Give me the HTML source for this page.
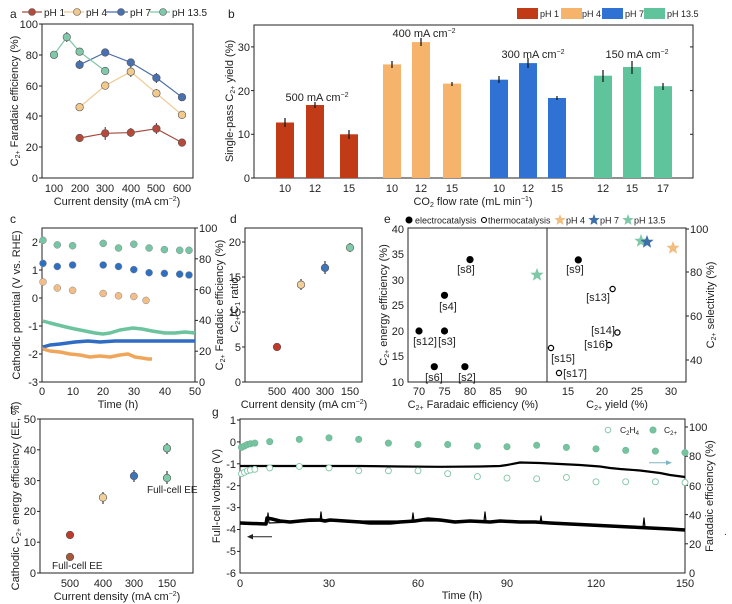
<!DOCTYPE html>
<html><head><meta charset="utf-8"><style>
body{margin:0;background:#fff}
svg{display:block;font-family:"Liberation Sans",Arial,sans-serif}
text{fill:#222}
.t{font-size:11px}
.l{font-size:11px}
.s{font-size:9px}
.p{font-size:12px}
</style></head><body>
<svg width="732" height="604" viewBox="0 0 732 604" xmlns="http://www.w3.org/2000/svg">
<g stroke="#222" fill="none" stroke-width="1">
<rect x="42" y="24" width="151" height="154"/>
<rect x="254" y="25" width="439" height="153"/>
<rect x="42" y="228" width="153" height="154"/>
<rect x="245" y="228" width="117" height="154"/>
<rect x="408" y="228" width="278" height="154"/>
<line x1="547" y1="228" x2="547" y2="382"/>
<rect x="40" y="419" width="153" height="154"/>
<rect x="240" y="419" width="445" height="154"/>
</g>
<text x="10" y="18" class="p">a</text><text x="228" y="18" class="p">b</text>
<text x="10" y="223" class="p">c</text><text x="230" y="223" class="p">d</text>
<text x="384" y="223" class="p">e</text><text x="10" y="414" class="p">f</text>
<text x="212" y="416" class="p">g</text>

<!-- ===== Panel a ===== -->
<g class="t" text-anchor="end">
<text x="38" y="182">0</text><text x="38" y="151">20</text><text x="38" y="120">40</text><text x="38" y="90">60</text><text x="38" y="59">80</text><text x="38" y="28">100</text>
</g>
<g stroke="#222"><line x1="42" y1="178" x2="39" y2="178"/><line x1="42" y1="147" x2="39" y2="147"/><line x1="42" y1="116" x2="39" y2="116"/><line x1="42" y1="86" x2="39" y2="86"/><line x1="42" y1="55" x2="39" y2="55"/><line x1="42" y1="24" x2="39" y2="24"/></g>
<g class="t" text-anchor="middle">
<text x="54" y="192">100</text><text x="80" y="192">200</text><text x="105" y="192">300</text><text x="131" y="192">400</text><text x="156" y="192">500</text><text x="182" y="192">600</text>
</g>
<text x="117" y="205" class="l" text-anchor="middle">Current density (mA cm<tspan dy="-4" font-size="7">−2</tspan><tspan dy="4">)</tspan></text>
<text transform="translate(18,101) rotate(-90)" class="l" text-anchor="middle">C<tspan font-size="7" dy="2">2+</tspan><tspan dy="-2"> Faradaic efficiency (%)</tspan></text>
<g stroke-width="1.2" fill="none">
<polyline stroke="#a84a3c" points="79.6,138 105.2,133.3 130.8,132.6 156.4,128.7 182,142.6"/>
<polyline stroke="#f0c88f" points="79.6,107.2 105.2,85.6 130.8,71.7 156.4,93.3 182,114.9"/>
<polyline stroke="#4b6ea6" points="79.6,64.8 105.2,52.5 130.8,62.5 156.4,77.9 182,97.2"/>
<polyline stroke="#7fc6a8" points="54,54.8 66.8,37.1 79.6,51.7 105.2,71"/>
</g>
<g stroke="#333" stroke-width="1">
<line x1="79.6" y1="134" x2="79.6" y2="142"/><line x1="105.2" y1="127" x2="105.2" y2="140"/><line x1="130.8" y1="128" x2="130.8" y2="137"/><line x1="156.4" y1="123" x2="156.4" y2="134"/><line x1="182" y1="139" x2="182" y2="146"/>
<line x1="79.6" y1="104" x2="79.6" y2="110"/><line x1="105.2" y1="82" x2="105.2" y2="89"/><line x1="130.8" y1="66" x2="130.8" y2="77"/><line x1="156.4" y1="89" x2="156.4" y2="97"/><line x1="182" y1="112" x2="182" y2="118"/>
<line x1="79.6" y1="60" x2="79.6" y2="69"/><line x1="105.2" y1="49" x2="105.2" y2="56"/><line x1="130.8" y1="59" x2="130.8" y2="66"/><line x1="156.4" y1="73" x2="156.4" y2="83"/><line x1="182" y1="94" x2="182" y2="100"/>
<line x1="54" y1="51" x2="54" y2="58"/><line x1="66.8" y1="32" x2="66.8" y2="42"/><line x1="79.6" y1="48" x2="79.6" y2="55"/><line x1="105.2" y1="67" x2="105.2" y2="75"/>
</g>
<g stroke="#555" stroke-width="0.6">
<g fill="#b54a3a"><circle cx="79.6" cy="138" r="3.8"/><circle cx="105.2" cy="133.3" r="3.8"/><circle cx="130.8" cy="132.6" r="3.8"/><circle cx="156.4" cy="128.7" r="3.8"/><circle cx="182" cy="142.6" r="3.8"/></g>
<g fill="#f2c98c"><circle cx="79.6" cy="107.2" r="3.8"/><circle cx="105.2" cy="85.6" r="3.8"/><circle cx="130.8" cy="71.7" r="3.8"/><circle cx="156.4" cy="93.3" r="3.8"/><circle cx="182" cy="114.9" r="3.8"/></g>
<g fill="#4a70b0"><circle cx="79.6" cy="64.8" r="3.8"/><circle cx="105.2" cy="52.5" r="3.8"/><circle cx="130.8" cy="62.5" r="3.8"/><circle cx="156.4" cy="77.9" r="3.8"/><circle cx="182" cy="97.2" r="3.8"/></g>
<g fill="#80c8aa"><circle cx="54" cy="54.8" r="3.8"/><circle cx="66.8" cy="37.1" r="3.8"/><circle cx="79.6" cy="51.7" r="3.8"/><circle cx="105.2" cy="71" r="3.8"/></g>
</g>
<g stroke-width="1.2">
<line x1="22" y1="12" x2="42" y2="12" stroke="#a84a3c"/><circle cx="32" cy="12" r="3.5" fill="#b54a3a" stroke="#555" stroke-width="0.6"/>
<line x1="64" y1="12" x2="84" y2="12" stroke="#f0c88f"/><circle cx="77" cy="12" r="3.5" fill="#f2c98c" stroke="#555" stroke-width="0.6"/>
<line x1="106" y1="12" x2="128" y2="12" stroke="#4b6ea6"/><circle cx="121" cy="12" r="3.5" fill="#4a70b0" stroke="#555" stroke-width="0.6"/>
<line x1="150" y1="12" x2="170" y2="12" stroke="#7fc6a8"/><circle cx="163" cy="12" r="3.5" fill="#80c8aa" stroke="#555" stroke-width="0.6"/>
</g>
<g font-size="10"><text x="44" y="16">pH 1</text><text x="86" y="16">pH 4</text><text x="130" y="16">pH 7</text><text x="172" y="16">pH 13.5</text></g>

<!-- ===== Panel b ===== -->
<g class="t" text-anchor="end"><text x="250" y="182">0</text><text x="250" y="138">10</text><text x="250" y="95">20</text><text x="250" y="51">30</text></g>
<g stroke="#222"><line x1="254" y1="178" x2="251" y2="178"/><line x1="254" y1="134.3" x2="251" y2="134.3"/><line x1="254" y1="90.6" x2="251" y2="90.6"/><line x1="254" y1="46.9" x2="251" y2="46.9"/>
<line x1="693" y1="134.3" x2="690" y2="134.3"/><line x1="693" y1="90.6" x2="690" y2="90.6"/><line x1="693" y1="46.9" x2="690" y2="46.9"/></g>
<g fill="#c23b17">
<rect x="276" y="122.5" width="18" height="55.5"/><rect x="306" y="105" width="18" height="73"/><rect x="340" y="134.3" width="18" height="43.7"/></g>
<g fill="#f5b36c">
<rect x="383" y="64.4" width="18" height="113.6"/><rect x="412" y="42.1" width="18" height="135.9"/><rect x="443" y="83.6" width="18" height="94.4"/></g>
<g fill="#2f72d4">
<rect x="490" y="79.7" width="18" height="98.3"/><rect x="519" y="63.1" width="18" height="114.9"/><rect x="548" y="98" width="18" height="80"/></g>
<g fill="#5fc39c">
<rect x="594" y="75.7" width="18" height="102.3"/><rect x="623" y="67" width="18" height="111"/><rect x="654" y="86.2" width="18" height="91.8"/></g>
<g stroke="#111" stroke-width="1.2">
<line x1="285" y1="118" x2="285" y2="127"/><line x1="315" y1="102" x2="315" y2="108"/><line x1="349" y1="130" x2="349" y2="139"/>
<line x1="392" y1="61" x2="392" y2="68"/><line x1="421" y1="38" x2="421" y2="46"/><line x1="452" y1="82" x2="452" y2="86"/>
<line x1="499" y1="76" x2="499" y2="83"/><line x1="528" y1="58" x2="528" y2="68"/><line x1="557" y1="96" x2="557" y2="100"/>
<line x1="603" y1="70" x2="603" y2="82"/><line x1="632" y1="61" x2="632" y2="74"/><line x1="663" y1="83" x2="663" y2="90"/>
</g>
<g class="l" text-anchor="middle">
<text x="317" y="101">500 mA cm<tspan dy="-4" font-size="7">−2</tspan></text>
<text x="424" y="37">400 mA cm<tspan dy="-4" font-size="7">−2</tspan></text>
<text x="533" y="58">300 mA cm<tspan dy="-4" font-size="7">−2</tspan></text>
<text x="637" y="58">150 mA cm<tspan dy="-4" font-size="7">−2</tspan></text>
</g>
<g class="t" text-anchor="middle">
<text x="285" y="192">10</text><text x="315" y="192">12</text><text x="349" y="192">15</text>
<text x="392" y="192">10</text><text x="421" y="192">12</text><text x="452" y="192">15</text>
<text x="499" y="192">10</text><text x="528" y="192">12</text><text x="557" y="192">15</text>
<text x="603" y="192">12</text><text x="632" y="192">15</text><text x="663" y="192">17</text>
</g>
<text x="473" y="205" class="l" text-anchor="middle">CO<tspan font-size="7" dy="2">2</tspan><tspan dy="-2"> flow rate (mL min</tspan><tspan dy="-4" font-size="7">−1</tspan><tspan dy="4">)</tspan></text>
<text transform="translate(233,101) rotate(-90)" class="l" text-anchor="middle">Single-pass C<tspan font-size="7" dy="2">2+</tspan><tspan dy="-2"> yield (%)</tspan></text>
<rect x="517" y="8" width="21" height="11" fill="#c23b17"/><text x="540" y="17" class="s">pH 1</text>
<rect x="561" y="8" width="21" height="11" fill="#f5b36c"/><text x="582" y="17" class="s">pH 4</text>
<rect x="602" y="8" width="21" height="11" fill="#2f72d4"/><text x="625" y="17" class="s">pH 7</text>
<rect x="644" y="8" width="21" height="11" fill="#5fc39c"/><text x="667" y="17" class="s">pH 13.5</text>

<!-- ===== Panel c ===== -->
<g class="t" text-anchor="end">
<text x="38" y="246">2</text><text x="38" y="274">1</text><text x="38" y="302">0</text><text x="38" y="330">-1</text><text x="38" y="358">-2</text><text x="38" y="386">-3</text></g>
<g stroke="#222"><line x1="42" y1="242" x2="39" y2="242"/><line x1="42" y1="270" x2="39" y2="270"/><line x1="42" y1="298" x2="39" y2="298"/><line x1="42" y1="326" x2="39" y2="326"/><line x1="42" y1="354" x2="39" y2="354"/><line x1="42" y1="382" x2="39" y2="382"/>
<line x1="195" y1="228" x2="198" y2="228"/><line x1="195" y1="258.8" x2="198" y2="258.8"/><line x1="195" y1="289.6" x2="198" y2="289.6"/><line x1="195" y1="320.4" x2="198" y2="320.4"/><line x1="195" y1="351.2" x2="198" y2="351.2"/><line x1="195" y1="382" x2="198" y2="382"/></g>
<g class="t">
<text x="199" y="232">100</text><text x="199" y="263">80</text><text x="199" y="294">60</text><text x="199" y="324">40</text><text x="199" y="355">20</text><text x="199" y="386">0</text></g>
<g class="t" text-anchor="middle">
<text x="42" y="395">0</text><text x="73" y="395">10</text><text x="103" y="395">20</text><text x="134" y="395">30</text><text x="165" y="395">40</text><text x="195" y="395">50</text></g>
<text x="118" y="408" class="l" text-anchor="middle">Time (h)</text>
<text transform="translate(20,305) rotate(-90)" class="l" text-anchor="middle">Cathodic potential (V vs. RHE)</text>
<text transform="translate(223,305) rotate(-90)" class="l" text-anchor="middle">C<tspan font-size="7" dy="2">2+</tspan><tspan dy="-2"> Faradaic efficiency (%)</tspan></text>
<g fill="none" stroke-width="3.5" stroke-linejoin="round">
<polyline stroke="#6cc49e" points="43,321 50,323 58,325 66,327 75,329 85,331 95,333 103,334 110,333 120,330 133,328 142,329 152,331 165,333 175,333 185,332 195,333"/>
<polyline stroke="#2f6cc4" points="43,347 50,345 60,344 75,342 88,341 100,342 115,341 135,341 155,341 175,341 195,341"/>
<polyline stroke="#f0a65a" points="43,349 50,351 60,352 70,354 80,355 90,357 100,356 110,357 120,355 128,354 135,357 142,358 148,359 152,359"/>
</g>
<g stroke="#888" stroke-width="0.5">
<g fill="#76c6a6"><circle cx="43" cy="240.3" r="3.5"/><circle cx="57.3" cy="244.9" r="3.5"/><circle cx="72.6" cy="245.7" r="3.5"/><circle cx="103.2" cy="243.4" r="3.5"/><circle cx="118.5" cy="248" r="3.5"/><circle cx="133.8" cy="244.2" r="3.5"/><circle cx="149.1" cy="248" r="3.5"/><circle cx="164.4" cy="249.6" r="3.5"/><circle cx="179.7" cy="250.3" r="3.5"/><circle cx="189" cy="250.3" r="3.5"/></g>
<g fill="#2e6fc0"><circle cx="43" cy="263.4" r="3.5"/><circle cx="57.3" cy="266.5" r="3.5"/><circle cx="72.6" cy="265" r="3.5"/><circle cx="103.2" cy="265" r="3.5"/><circle cx="118.5" cy="266.5" r="3.5"/><circle cx="133.8" cy="269.6" r="3.5"/><circle cx="149.1" cy="272.7" r="3.5"/><circle cx="164.4" cy="273.4" r="3.5"/><circle cx="179.7" cy="274.2" r="3.5"/><circle cx="189" cy="275" r="3.5"/></g>
<g fill="#f2bd86"><circle cx="43" cy="281.9" r="3.5"/><circle cx="57.3" cy="288" r="3.5"/><circle cx="72.6" cy="290.4" r="3.5"/><circle cx="103.2" cy="293.5" r="3.5"/><circle cx="118.5" cy="295.8" r="3.5"/><circle cx="133.8" cy="296.5" r="3.5"/><circle cx="146" cy="300.4" r="3.5"/></g>
</g>

<!-- ===== Panel d ===== -->
<g class="t" text-anchor="end"><text x="241" y="386">0</text><text x="241" y="351">5</text><text x="241" y="316">10</text><text x="241" y="281">15</text><text x="241" y="246">20</text></g>
<g stroke="#222"><line x1="245" y1="382" x2="242" y2="382"/><line x1="245" y1="347" x2="242" y2="347"/><line x1="245" y1="312" x2="242" y2="312"/><line x1="245" y1="277" x2="242" y2="277"/><line x1="245" y1="242" x2="242" y2="242"/></g>
<g class="t" text-anchor="middle"><text x="277" y="395">500</text><text x="301" y="395">400</text><text x="325" y="395">300</text><text x="350" y="395">150</text></g>
<text x="304" y="408" class="l" text-anchor="middle">Current density (mA cm<tspan dy="-4" font-size="7">−2</tspan><tspan dy="4">)</tspan></text>
<text transform="translate(238,305) rotate(-90)" class="l" text-anchor="middle">C<tspan font-size="7" dy="2">2+</tspan><tspan dy="-2">/C</tspan><tspan font-size="7" dy="2">1</tspan><tspan dy="-2"> ratio</tspan></text>
<g stroke="#111"><line x1="277" y1="343" x2="277" y2="351"/><line x1="301" y1="279" x2="301" y2="290"/><line x1="325" y1="261" x2="325" y2="274"/><line x1="350" y1="243" x2="350" y2="252"/></g>
<g stroke="#555" stroke-width="0.6"><circle cx="277" cy="347" r="3.8" fill="#c0392b"/><circle cx="301" cy="284.7" r="3.8" fill="#f2cf98"/><circle cx="325" cy="267.9" r="3.8" fill="#3f74b8"/><circle cx="350" cy="247.6" r="3.8" fill="#7fcaa8"/></g>

<!-- ===== Panel e ===== -->
<g class="t" text-anchor="end"><text x="404" y="233">40</text><text x="404" y="258">35</text><text x="404" y="284">30</text><text x="404" y="309">25</text><text x="404" y="335">20</text><text x="404" y="360">15</text><text x="404" y="386">10</text></g>
<g class="t"><text x="690" y="233">100</text><text x="690" y="276">80</text><text x="690" y="320">60</text><text x="690" y="364">40</text></g>
<g stroke="#222"><line x1="686" y1="272" x2="689" y2="272"/><line x1="686" y1="316" x2="689" y2="316"/><line x1="686" y1="360" x2="689" y2="360"/><line x1="686" y1="229" x2="689" y2="229"/></g>
<g class="t" text-anchor="middle"><text x="419" y="395">70</text><text x="444.5" y="395">75</text><text x="470" y="395">80</text><text x="495.5" y="395">85</text><text x="521" y="395">90</text>
<text x="568" y="395">15</text><text x="602" y="395">20</text><text x="637" y="395">25</text><text x="671" y="395">30</text></g>
<text x="473" y="408" class="l" text-anchor="middle">C<tspan font-size="7" dy="2">2+</tspan><tspan dy="-2"> Faradaic efficiency (%)</tspan></text>
<text x="617" y="408" class="l" text-anchor="middle">C<tspan font-size="7" dy="2">2+</tspan><tspan dy="-2"> yield (%)</tspan></text>
<text transform="translate(387,305) rotate(-90)" class="l" text-anchor="middle">C<tspan font-size="7" dy="2">2+</tspan><tspan dy="-2"> energy efficiency (%)</tspan></text>
<text transform="translate(714,305) rotate(-90)" class="l" text-anchor="middle">C<tspan font-size="7" dy="2">2+</tspan><tspan dy="-2"> selectivity (%)</tspan></text>
<g fill="#000"><circle cx="419" cy="331" r="3.6"/><circle cx="434.3" cy="366.7" r="3.6"/><circle cx="444.5" cy="295.3" r="3.6"/><circle cx="444.5" cy="331" r="3.6"/><circle cx="464.9" cy="366.7" r="3.6"/><circle cx="470" cy="259.6" r="3.6"/><circle cx="578.3" cy="259.9" r="3.6"/></g>
<g fill="#fff" stroke="#000" stroke-width="1.2"><circle cx="612.6" cy="289" r="2.6"/><circle cx="617.4" cy="332.5" r="2.6"/><circle cx="609.2" cy="345" r="2.6"/><circle cx="551" cy="348" r="2.6"/><circle cx="559" cy="373" r="2.6"/></g>
<g class="t" text-anchor="middle">
<text x="425" y="345">[s12]</text><text x="434" y="381">[s6]</text><text x="448" y="310">[s4]</text><text x="447" y="345">[s3]</text><text x="467" y="381">[s2]</text><text x="466" y="273">[s8]</text><text x="575" y="273">[s9]</text>
<text x="598" y="301">[s13]</text><text x="603" y="334">[s14]</text><text x="596" y="348">[s16]</text><text x="563" y="362">[s15]</text><text x="575" y="377">[s17]</text></g>
<g>
<polygon transform="translate(537,274.9)" points="0,-7 1.8,-2.3 6.7,-2.2 2.9,0.9 4.1,5.7 0,3 -4.1,5.7 -2.9,0.9 -6.7,-2.2 -1.8,-2.3" fill="#7fc8a8"/>
<polygon transform="translate(641,241)" points="0,-7 1.8,-2.3 6.7,-2.2 2.9,0.9 4.1,5.7 0,3 -4.1,5.7 -2.9,0.9 -6.7,-2.2 -1.8,-2.3" fill="#7fc8a8"/>
<polygon transform="translate(647,242)" points="0,-7 1.8,-2.3 6.7,-2.2 2.9,0.9 4.1,5.7 0,3 -4.1,5.7 -2.9,0.9 -6.7,-2.2 -1.8,-2.3" fill="#3d6fa8"/>
<polygon transform="translate(673,248)" points="0,-7 1.8,-2.3 6.7,-2.2 2.9,0.9 4.1,5.7 0,3 -4.1,5.7 -2.9,0.9 -6.7,-2.2 -1.8,-2.3" fill="#f2bd80"/>
</g>
<circle cx="409" cy="220" r="3.5" fill="#000"/><text x="415" y="223.5" class="s">electrocatalysis</text>
<circle cx="484" cy="220" r="2.5" fill="#fff" stroke="#000" stroke-width="1.1"/><text x="488" y="223.5" class="s">thermocatalysis</text>
<polygon transform="translate(560,220)" points="0,-6 1.5,-2 5.7,-1.9 2.5,0.8 3.5,4.9 0,2.6 -3.5,4.9 -2.5,0.8 -5.7,-1.9 -1.5,-2" fill="#f2bd80"/><text x="566" y="223.5" class="s">pH 4</text>
<polygon transform="translate(594,220)" points="0,-6 1.5,-2 5.7,-1.9 2.5,0.8 3.5,4.9 0,2.6 -3.5,4.9 -2.5,0.8 -5.7,-1.9 -1.5,-2" fill="#3d6fa8"/><text x="600" y="223.5" class="s">pH 7</text>
<polygon transform="translate(628,220)" points="0,-6 1.5,-2 5.7,-1.9 2.5,0.8 3.5,4.9 0,2.6 -3.5,4.9 -2.5,0.8 -5.7,-1.9 -1.5,-2" fill="#7fc8a8"/><text x="634" y="223.5" class="s">pH 13.5</text>

<!-- ===== Panel f ===== -->
<g class="t" text-anchor="end"><text x="36" y="577">0</text><text x="36" y="546">10</text><text x="36" y="515">20</text><text x="36" y="485">30</text><text x="36" y="454">40</text><text x="36" y="423">50</text></g>
<g stroke="#222"><line x1="40" y1="573" x2="37" y2="573"/><line x1="40" y1="542.2" x2="37" y2="542.2"/><line x1="40" y1="511.4" x2="37" y2="511.4"/><line x1="40" y1="480.6" x2="37" y2="480.6"/><line x1="40" y1="449.8" x2="37" y2="449.8"/><line x1="40" y1="419" x2="37" y2="419"/></g>
<g class="t" text-anchor="middle"><text x="70" y="587">500</text><text x="103" y="587">400</text><text x="134" y="587">300</text><text x="167" y="587">150</text></g>
<text x="117" y="600" class="l" text-anchor="middle">Current density (mA cm<tspan dy="-4" font-size="7">−2</tspan><tspan dy="4">)</tspan></text>
<text transform="translate(19,496) rotate(-90)" class="l" text-anchor="middle">Cathodic C<tspan font-size="7" dy="2">2+</tspan><tspan dy="-2"> energy efficiency (EE, %)</tspan></text>
<g stroke="#111"><line x1="70" y1="531" x2="70" y2="539"/><line x1="70" y1="553" x2="70" y2="561"/><line x1="103" y1="492" x2="103" y2="504"/><line x1="134" y1="470" x2="134" y2="482"/><line x1="167" y1="443" x2="167" y2="454"/><line x1="167" y1="471" x2="167" y2="484"/></g>
<g stroke="#555" stroke-width="0.6"><circle cx="70" cy="535" r="3.8" fill="#c0392b"/><circle cx="70" cy="557" r="3.8" fill="#a5583a"/><circle cx="103" cy="497.5" r="3.8" fill="#f2cf98"/><circle cx="134" cy="476" r="3.8" fill="#3f74b8"/><circle cx="167" cy="448.3" r="3.8" fill="#7fcaa8"/><circle cx="167" cy="478" r="3.8" fill="#7fcaa8"/></g>
<text x="52" y="569" font-size="10">Full-cell EE</text>
<text x="147" y="493" font-size="10">Full-cell EE</text>

<!-- ===== Panel g ===== -->
<g class="t" text-anchor="end"><text x="236" y="424">1</text><text x="236" y="446">0</text><text x="236" y="468">-1</text><text x="236" y="490">-2</text><text x="236" y="511">-3</text><text x="236" y="533">-4</text><text x="236" y="555">-5</text><text x="236" y="577">-6</text></g>
<g stroke="#222"><line x1="240" y1="420" x2="237" y2="420"/><line x1="240" y1="441.9" x2="237" y2="441.9"/><line x1="240" y1="463.8" x2="237" y2="463.8"/><line x1="240" y1="485.7" x2="237" y2="485.7"/><line x1="240" y1="507.6" x2="237" y2="507.6"/><line x1="240" y1="529.5" x2="237" y2="529.5"/><line x1="240" y1="551.4" x2="237" y2="551.4"/>
<line x1="685" y1="427" x2="688" y2="427"/><line x1="685" y1="456.2" x2="688" y2="456.2"/><line x1="685" y1="485.4" x2="688" y2="485.4"/><line x1="685" y1="514.6" x2="688" y2="514.6"/><line x1="685" y1="543.8" x2="688" y2="543.8"/></g>
<g class="t"><text x="689" y="431">100</text><text x="689" y="460">80</text><text x="689" y="490">60</text><text x="689" y="519">40</text><text x="689" y="548">20</text><text x="689" y="577">0</text></g>
<g class="t" text-anchor="middle"><text x="240" y="587">0</text><text x="329" y="587">30</text><text x="418" y="587">60</text><text x="507" y="587">90</text><text x="596" y="587">120</text><text x="685" y="587">150</text></g>
<text x="462" y="599" class="l" text-anchor="middle">Time (h)</text>
<text transform="translate(220,496) rotate(-90)" class="l" text-anchor="middle">Full-cell voltage (V)</text>
<text transform="translate(713,496) rotate(-90)" class="l" text-anchor="middle">Faradaic efficiency (%)</text>
<g fill="none" stroke="#000" stroke-linejoin="round">
<polyline stroke-width="2.2" points="240,466 280,466 320,466 360,466 400,466.5 440,466.8 480,466.5 500,466 507,465 520,462.5 540,463 560,464 580,465 600,466.5 610,468 620,469 640,470.5 660,473 670,475 685,477"/>
<polyline stroke-width="3.5" points="240,523 266,524 267,518 272,519 280,521 290,522 300,521 310,520 320,520 325,521 330,520 345,521 360,522 370,523 380,523 390,523 400,522 415,521 428,519 440,520 455,522 470,521 490,522 500,521 520,522 535,522 550,523 570,524 590,525 610,526 630,527 650,528 670,529 685,530"/>
<polyline stroke-width="1.2" points="267,523 268,513 269,523 320,521 321,512 322,521 412,521 413,513 414,521 484,521 485,512 486,521 540,523 541,516 542,523 643,527 644,518 645,527"/>
</g>
<line x1="272" y1="536.7" x2="250" y2="536.7" stroke="#222" stroke-width="1"/><polygon points="247,536.7 253,534 253,539.4" fill="#222"/>
<line x1="649" y1="462.7" x2="668" y2="462.7" stroke="#7fb6c4" stroke-width="1"/><polygon points="672,462.7 666,460.3 666,465.1" fill="#7fb6c4"/>
<g stroke="#6ab894" stroke-width="0.6" fill="#77c39f">
<circle cx="241.5" cy="447.4" r="3.2"/><circle cx="244.5" cy="446" r="3.2"/><circle cx="247.4" cy="444.5" r="3.2"/><circle cx="250.4" cy="443.8" r="3.2"/><circle cx="254.8" cy="443.1" r="3.2"/><circle cx="269.7" cy="441.6" r="3.2"/><circle cx="299.3" cy="439.4" r="3.2"/><circle cx="329" cy="437.9" r="3.2"/><circle cx="358.7" cy="439.4" r="3.2"/><circle cx="388.4" cy="443.1" r="3.2"/><circle cx="418" cy="444.5" r="3.2"/><circle cx="447.7" cy="444.5" r="3.2"/><circle cx="477.4" cy="446" r="3.2"/><circle cx="507" cy="446.7" r="3.2"/><circle cx="536.7" cy="445.3" r="3.2"/><circle cx="566.4" cy="447.4" r="3.2"/><circle cx="596" cy="448.9" r="3.2"/><circle cx="625.7" cy="450.4" r="3.2"/><circle cx="655.4" cy="451.1" r="3.2"/><circle cx="685" cy="452.6" r="3.2"/>
</g>
<g stroke="#7fc4a4" stroke-width="0.9" fill="#fff">
<circle cx="241.5" cy="473.7" r="3"/><circle cx="244.5" cy="472.3" r="3"/><circle cx="247.4" cy="470.8" r="3"/><circle cx="250.4" cy="470.1" r="3"/><circle cx="254.8" cy="469.3" r="3"/><circle cx="269.7" cy="467.9" r="3"/><circle cx="299.3" cy="466.4" r="3"/><circle cx="329" cy="467.9" r="3"/><circle cx="358.7" cy="470.8" r="3"/><circle cx="388.4" cy="470.8" r="3"/><circle cx="418" cy="470.8" r="3"/><circle cx="447.7" cy="473.7" r="3"/><circle cx="477.4" cy="476.6" r="3"/><circle cx="507" cy="478.1" r="3"/><circle cx="536.7" cy="478.8" r="3"/><circle cx="566.4" cy="477.4" r="3"/><circle cx="596" cy="481.8" r="3"/><circle cx="625.7" cy="481.8" r="3"/><circle cx="655.4" cy="481.8" r="3"/><circle cx="685" cy="482.5" r="3"/>
</g>
<circle cx="608" cy="430" r="2.8" fill="#fff" stroke="#7fc4a4" stroke-width="0.9"/>
<text x="620" y="433" font-size="8.5">C<tspan font-size="6" dy="2">2</tspan><tspan dy="-2">H</tspan><tspan font-size="6" dy="2">4</tspan></text>
<circle cx="653" cy="430" r="3.2" fill="#77c39f" stroke="#6ab894" stroke-width="0.6"/>
<text x="664" y="433" font-size="8.5">C<tspan font-size="6" dy="2">2+</tspan></text>
<text x="724" y="535" font-size="10">.</text>
</svg>
</body></html>
